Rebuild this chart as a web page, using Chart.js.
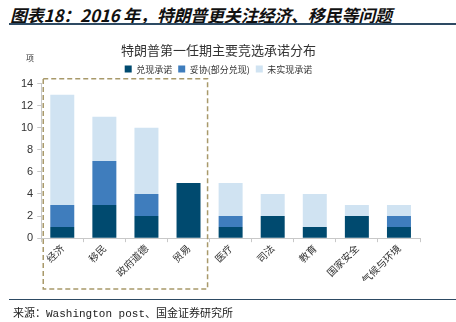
<!DOCTYPE html>
<html>
<head>
<meta charset="utf-8">
<script src="https://cdn.jsdelivr.net/npm/chart.js@4"></script>
<style>
  body { margin: 0; background: #fff; }
  #wrap { position: relative; width: 456px; height: 322px; overflow: hidden; font-family: "Noto Sans CJK SC", sans-serif; }
  #head { position: absolute; left: 10px; top: 2px; font-size: 17px; letter-spacing: -0.2px; font-weight: bold; font-style: italic; color: #111; white-space: nowrap; }
  #line1 { position: absolute; left: 9px; right: 0; top: 23px; height: 2px; background: #2d4a63; }
  #line2 { position: absolute; left: 9px; right: 0; top: 299px; height: 1px; background: #2d4a63; }
  #src { position: absolute; left: 13px; top: 304px; font-size: 11px; color: #222; white-space: nowrap; font-family: "Liberation Mono", "Noto Sans CJK SC", monospace; }
  #unit { position: absolute; left: 26px; top: 52px; font-size: 8px; color: #333; }
  canvas { position: absolute; left: 0; top: 0; }
</style>
</head>
<body>
<div id="wrap">
  <div id="head">图表18：2016 年，特朗普更关注经济、移民等问题</div>
  <div id="line1"></div>
  <canvas id="c" width="456" height="322"></canvas>
  <div id="unit">项</div>
  <div id="line2"></div>
  <div id="src">来源：Washington post、国金证券研究所</div>
</div>
<script>
const categories = ["经济", "移民", "政府道德", "贸易", "医疗", "司法", "教育", "国家安全", "气候与环境"];
const kept = [1, 3, 2, 5, 1, 2, 1, 2, 1];        // 兑现承诺
const partial = [2, 4, 2, 0, 1, 0, 0, 0, 1];     // 妥协(部分兑现)
const broken = [10, 4, 6, 0, 3, 2, 3, 1, 1];     // 未实现承诺
const yTicks = [0, 2, 4, 6, 8, 10, 12, 14];

// 前四类的虚线框
const boxPlugin = {
    id: "dashBox",
    afterDraw(chart) {
        const ctx = chart.ctx;
        const x = chart.scales.x;
        const y = chart.scales.y;
        const half = (x.getPixelForValue(1) - x.getPixelForValue(0)) / 2;
        const left = x.getPixelForValue(0) - half + 2;
        const right = x.getPixelForValue(3) + half - 2;
        const top = y.getPixelForValue(14.45);
        const bottom = 289;
        ctx.save();
        ctx.strokeStyle = "#a8996a";
        ctx.lineWidth = 1.5;
        ctx.setLineDash([5, 3]);
        ctx.strokeRect(left, top, right - left, bottom - top);
        ctx.restore();
    }
};

const ctx = document.getElementById("c").getContext("2d");
new Chart(ctx, {
    type: "bar",
    data: {
        labels: categories,
        datasets: [
            { label: "兑现承诺", data: kept, backgroundColor: "#004a6f" },
            { label: "妥协(部分兑现)", data: partial, backgroundColor: "#3f7dbd" },
            { label: "未实现承诺", data: broken, backgroundColor: "#d0e3f2" }
        ]
    },
    options: {
        responsive: false,
        animation: false,
        layout: { padding: { top: 42, bottom: 36, left: 17, right: 36 } },
        datasets: { bar: { categoryPercentage: 1, barPercentage: 0.57 } },
        plugins: {
            title: {
                display: true,
                text: "特朗普第一任期主要竞选承诺分布",
                color: "#333",
                font: { family: "Noto Sans CJK SC", size: 13, weight: "normal" },
                padding: { top: 0, bottom: 1 }
            },
            legend: {
                display: true,
                labels: {
                    boxWidth: 7,
                    boxHeight: 7,
                    padding: 6,
                    color: "#333",
                    font: { family: "Noto Sans CJK SC", size: 9 }
                }
            },
            tooltip: { enabled: false }
        },
        scales: {
            x: {
                stacked: true,
                grid: { drawOnChartArea: false, drawTicks: true, tickLength: 4, color: "#c8c8c8" },
                border: { color: "#c8c8c8" },
                ticks: {
                    minRotation: 45,
                    maxRotation: 45,
                    color: "#333",
                    font: { family: "Noto Sans CJK SC", size: 10 },
                    padding: 0
                }
            },
            y: {
                stacked: true,
                min: 0,
                max: 14,
                afterBuildTicks(axis) { axis.ticks = yTicks.map(v => ({ value: v })); },
                grid: { drawOnChartArea: false, drawTicks: true, tickLength: 4, color: "#c8c8c8" },
                border: { color: "#c8c8c8" },
                ticks: {
                    color: "#333",
                    font: { family: "Liberation Sans", size: 11 },
                    padding: 4
                }
            }
        }
    },
    plugins: [boxPlugin]
});
</script>
</body>
</html>
